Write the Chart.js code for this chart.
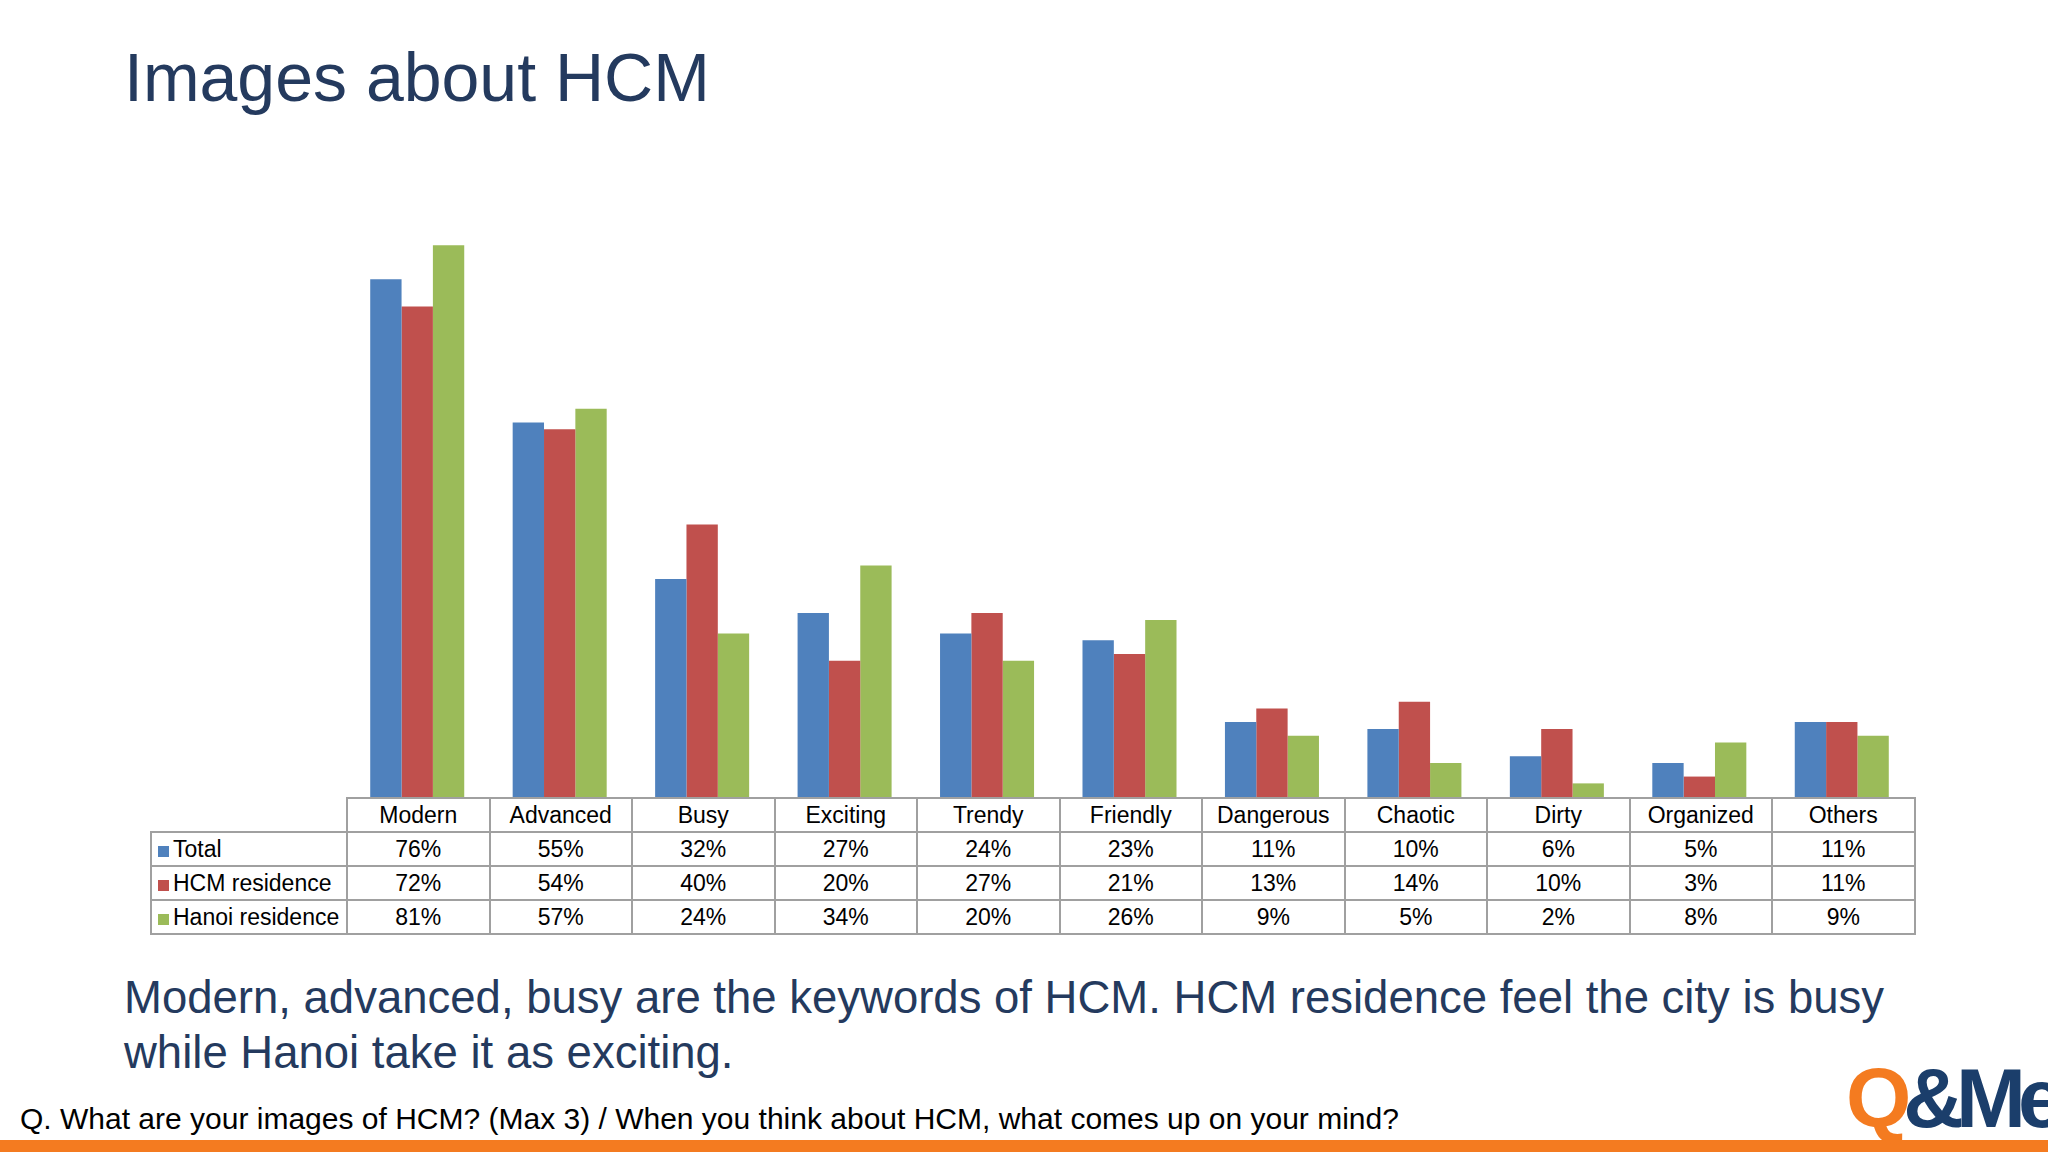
<!DOCTYPE html>
<html>
<head>
<meta charset="utf-8">
<script src="https://cdn.jsdelivr.net/npm/chart.js@4/dist/chart.umd.min.js"></script>
<style>
  body { margin: 0; width: 2048px; height: 1152px; background: #fff; font-family: Arial, "Liberation Sans", sans-serif; position: relative; overflow: hidden; }
  #title { position: absolute; left: 124px; top: 38px; font-size: 68px; color: #243a5e; }
  #chartBox { position: absolute; left: 346px; top: 184px; width: 1567px; height: 613px; }
  #tbl { position: absolute; left: 150px; top: 797px; border-collapse: collapse; font-size: 23px; color: #000; }
  #tbl td { border: 2px solid #a0a0a0; text-align: center; padding: 0; height: 32px; width: 140.5px; }
  #tbl td.lab { text-align: left; width: 188px; padding-left: 6px; white-space: nowrap; }
  #tbl td.blank { border: none; border-bottom: 2px solid #a0a0a0; }
  .sw { display: inline-block; width: 11px; height: 11px; margin-right: 4px; }
  #note { position: absolute; left: 124px; top: 970px; font-size: 45.5px; line-height: 55px; color: #243a5e; }
  #q { position: absolute; left: 20px; top: 1102px; font-size: 30px; color: #000; }
  #bar { position: absolute; left: 0; top: 1140px; width: 2048px; height: 12px; background: #f47b20; }
  #logo { position: absolute; left: 1846px; top: 1050px; font-size: 84px; font-weight: bold; letter-spacing: -8px; font-family: Arial, sans-serif; }
</style>
</head>
<body>
<div id="title">Images about HCM</div>
<div id="chartBox"><canvas id="c"></canvas></div>
<table id="tbl"></table>
<div id="note">Modern, advanced, busy are the keywords of HCM. HCM residence feel the city is busy<br>while Hanoi take it as exciting.</div>
<div id="q">Q. What are your images of HCM? (Max 3) / When you think about HCM, what comes up on your mind?</div>
<div id="logo"><span style="color:#f47b20">Q</span><span style="color:#1b3e6b">&amp;Me</span></div>
<div id="bar"></div>
<script>
const categories = ['Modern', 'Advanced', 'Busy', 'Exciting', 'Trendy', 'Friendly', 'Dangerous', 'Chaotic', 'Dirty', 'Organized', 'Others'];
const seriesNames = ['Total', 'HCM residence', 'Hanoi residence'];
const total = [76, 55, 32, 27, 24, 23, 11, 10, 6, 5, 11];
const hcm = [72, 54, 40, 20, 27, 21, 13, 14, 10, 3, 11];
const hanoi = [81, 57, 24, 34, 20, 26, 9, 5, 2, 8, 9];
const colors = ['#4f81bd', '#c0504d', '#9bbb59'];
const series = [total, hcm, hanoi];

new Chart(document.getElementById('c'), {
    type: 'bar',
    data: {
        labels: categories,
        datasets: series.map((d, i) => ({ label: seriesNames[i], data: d, backgroundColor: colors[i], categoryPercentage: 0.66, barPercentage: 1 }))
    },
    options: {
        responsive: true, maintainAspectRatio: false, animation: false,
        layout: { padding: 0 },
        plugins: { legend: { display: false }, tooltip: { enabled: false } },
        scales: {
            x: { display: false },
            y: { display: false, min: 0, max: 90 }
        }
    }
});

// data table under the chart
const tbl = document.getElementById('tbl');
let html = '<tr><td class="lab blank"></td>' + categories.map(c => `<td>${c}</td>`).join('') + '</tr>';
series.forEach((d, i) => {
    html += `<tr><td class="lab"><span class="sw" style="background:${colors[i]}"></span>${seriesNames[i]}</td>` + d.map(v => `<td>${v}%</td>`).join('') + '</tr>';
});
tbl.innerHTML = html;
</script>
</body>
</html>
